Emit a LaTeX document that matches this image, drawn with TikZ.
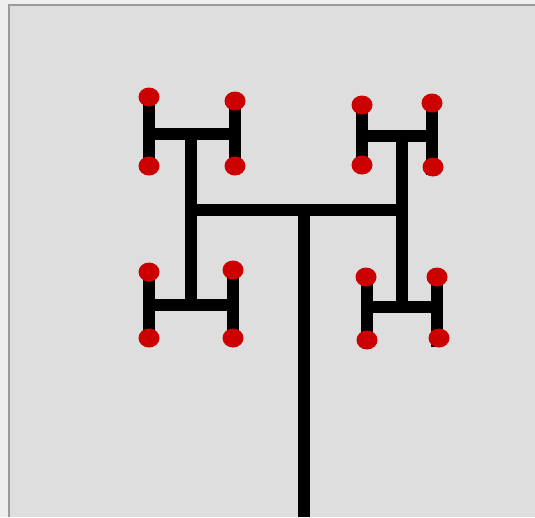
\documentclass[tikz,border=0pt]{standalone}
\usepackage{xcolor}
\definecolor{panelgray}{HTML}{DEDEDE}
\definecolor{pagegray}{HTML}{EEEEEE}
\definecolor{framegray}{HTML}{9A9A9A}
\definecolor{dotred}{HTML}{CC0000}
\usepackage{tikz}
\tikzset{
  branch/.style={line width=12pt, line cap=butt},
  tip/.style={fill=dotred},
}

\begin{document}
\begin{tikzpicture}[x=1pt,y=-1pt]
      \useasboundingbox (0,0) rectangle (535,517);
      \fill[pagegray] (0,0) rectangle (535,517);
      \fill[panelgray] (9,5) rectangle (535,517);
      \draw[framegray, line width=2pt] (9,517) -- (9,5) -- (535,5);

      % trunk and first bar
      \coordinate (root) at (304,517);
      \coordinate (fork) at (304,210);
      \coordinate (barL) at (191,210);
      \coordinate (barR) at (402,210);
      \draw[branch] (root) -- (fork) (barL) -- (barR);

      % second level stems
      \coordinate (stemLt) at (191,133.5);
      \coordinate (stemLb) at (191,304.5);
      \coordinate (stemRt) at (402,135.5);
      \coordinate (stemRb) at (402,306.5);
      \draw[branch] (stemLt) -- (stemLb) (stemRt) -- (stemRb);

      % the four small H's
      \coordinate (tl1) at (149,97);  \coordinate (tl2) at (149,166);
      \coordinate (tl3) at (235,101); \coordinate (tl4) at (235,166);
      \draw[branch] (tl1) -- (tl2) (tl3) -- (tl4) (149,133.5) -- (235,133.5);

      \coordinate (tr1) at (362,105); \coordinate (tr2) at (362,165);
      \coordinate (tr3) at (432,103); \coordinate (tr4) at (432,175);
      \draw[branch] (tr1) -- (tr2) (tr3) -- (tr4) (362,135.5) -- (432,135.5);

      \coordinate (bl1) at (149,272); \coordinate (bl2) at (149,338);
      \coordinate (bl3) at (233,270); \coordinate (bl4) at (233,338);
      \draw[branch] (bl1) -- (bl2) (bl3) -- (bl4) (149,304.5) -- (233,304.5);

      \coordinate (br1) at (367,277); \coordinate (br2) at (367,340);
      \coordinate (br3) at (437,277); \coordinate (br4) at (437,347);
      \draw[branch] (br1) -- (br2) (br3) -- (br4) (367,306.5) -- (437,306.5);

      % red tips
      \coordinate (trd) at (433,167);
      \coordinate (brd) at (439,338);
      \coordinate (brc) at (366,277);
      \fill[tip] foreach \s in {tl1,tl2,tl3,tl4,tr1,tr2,tr3,trd,bl1,bl2,bl3,bl4,brc,br2,br3,brd}{(\s) ellipse [x radius=10.5pt, y radius=9.5pt]};
    \end{tikzpicture}
\end{document}
